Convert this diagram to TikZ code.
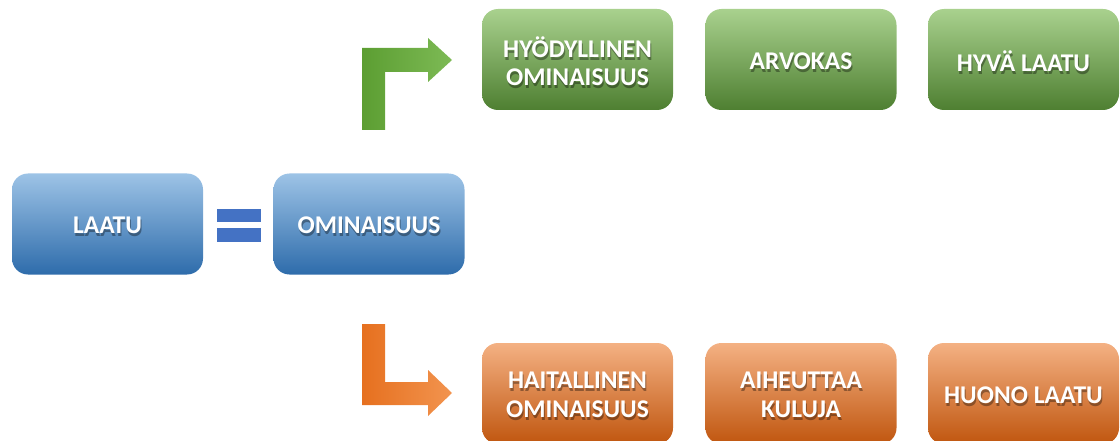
\documentclass[tikz,border=0pt]{standalone}
\usepackage{fontspec}
\setmainfont{Carlito}
\definecolor{bTop}{HTML}{9DC3E6}
\definecolor{bMid}{HTML}{5B9BD5}
\definecolor{bBot}{HTML}{2E6CAB}
\definecolor{gTop}{HTML}{A9D18E}
\definecolor{gMid}{HTML}{70AD47}
\definecolor{gBot}{HTML}{4E7F31}
\definecolor{oTop}{HTML}{F4B183}
\definecolor{oMid}{HTML}{ED7D31}
\definecolor{oBot}{HTML}{C0560F}
\definecolor{eqBlue}{HTML}{4472C4}
\definecolor{gArrL}{HTML}{5C9E32}
\definecolor{gArrR}{HTML}{7DBA55}
\definecolor{oArrL}{HTML}{E6701F}
\definecolor{oArrR}{HTML}{F2944F}
\tikzset{
  box/.style={rounded corners=16pt, minimum width=191pt, minimum height=101pt, inner sep=0pt, draw=none},
  bluebox/.style={box, shading=axis, top color=bTop, middle color=bMid, bottom color=bBot},
  greenbox/.style={box, shading=axis, top color=gTop, middle color=gMid, bottom color=gBot},
  orangebox/.style={box, shading=axis, top color=oTop, middle color=oMid, bottom color=oBot},
  txt/.style={text=white, font=\fontsize{25.5}{28.5}\selectfont\bfseries, align=center, inner sep=0pt, yshift=-1.5pt},
  txtshadow/.style={txt, text=black, text opacity=0.35, xshift=1pt, yshift=-3pt},
}
\newcommand\boxlabel[3]{%
  \node[txtshadow] (#1s) at (#2) {#3};
  \node[txt] (#1t) at (#2) {#3};}
\begin{document}
\begin{tikzpicture}[x=1pt,y=-1pt]
\useasboundingbox (0,0) rectangle (1120,441);
% main boxes
\node[bluebox] (laatu) at (107.5,224) {};
\node[bluebox] (omin) at (369,224) {};
\boxlabel{laatu}{laatu.center}{LAATU}
\boxlabel{omin}{omin.center}{OMINAISUUS}
% equals
\fill[eqBlue] (217,209) rectangle (261,222);
\fill[eqBlue] (217,228) rectangle (261,242);
% green row
\node[greenbox] (hyod) at (577.5,59.5) {};
\node[greenbox] (arvo) at (801,59.5) {};
\node[greenbox] (hyva) at (1023.5,59.5) {};
\boxlabel{hyod}{hyod.center}{HYÖDYLLINEN\\OMINAISUUS}
\boxlabel{arvo}{arvo.center}{ARVOKAS}
\boxlabel{hyva}{hyva.center}{HYVÄ LAATU}
% orange row
\node[orangebox] (hait) at (577.5,393.5) {};
\node[orangebox] (aihe) at (801,393.5) {};
\node[orangebox] (huon) at (1023.5,393.5) {};
\boxlabel{hait}{hait.center}{HAITALLINEN\\OMINAISUUS}
\boxlabel{aihe}{aihe.center}{AIHEUTTAA\\KULUJA}
\boxlabel{huon}{huon.center}{HUONO LAATU}
% bent arrows
\shade[left color=gArrL, right color=gArrR]
  (362,130) -- (362,48) -- (428,48) -- (428,38) -- (452,60) -- (428,82) -- (428,72) -- (385,72) -- (385,130) -- cycle;
\shade[left color=oArrL, right color=oArrR]
  (362,324) -- (385,324) -- (385,382) -- (428,382) -- (428,370) -- (452,393) -- (428,416) -- (428,405) -- (362,405) -- cycle;
\end{tikzpicture}
\end{document}
